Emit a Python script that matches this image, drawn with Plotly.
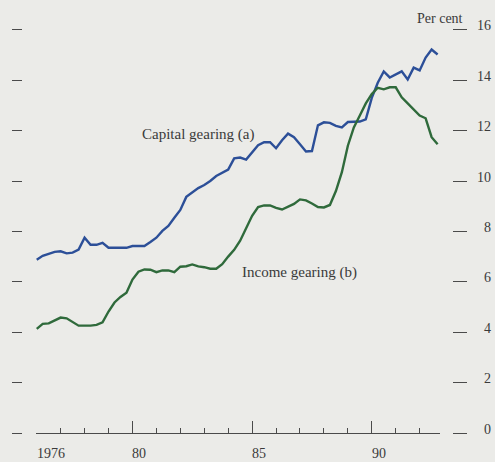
import pandas as pd
import plotly.graph_objects as go

# Quarterly observations, 1976 Q1 to 1992 Q4
quarters = pd.period_range("1976Q1", periods=68, freq="Q")

capital_gearing = [
    6.88, 7.03, 7.11, 7.19, 7.21, 7.13, 7.16, 7.28,
    7.75, 7.47, 7.47, 7.55, 7.35, 7.34, 7.34, 7.35,
    7.42, 7.42, 7.42, 7.58, 7.75, 8.02, 8.22, 8.54,
    8.85, 9.37, 9.53, 9.72, 9.84, 10.00, 10.20, 10.33,
    10.45, 10.90, 10.93, 10.85, 11.15, 11.42, 11.54, 11.54,
    11.30, 11.62, 11.88, 11.74, 11.46, 11.17, 11.19, 12.21,
    12.33, 12.31, 12.19, 12.13, 12.34, 12.36, 12.36, 12.45,
    13.30, 13.90, 14.35, 14.11, 14.23, 14.35, 14.03, 14.50,
    14.39, 14.90, 15.22, 15.02,
]

income_gearing = [
    4.13, 4.33, 4.35, 4.47, 4.58, 4.55, 4.39, 4.26,
    4.26, 4.26, 4.29, 4.39, 4.82, 5.18, 5.40, 5.57,
    6.09, 6.40, 6.49, 6.48, 6.38, 6.45, 6.45, 6.38,
    6.60, 6.62, 6.69, 6.61, 6.58, 6.52, 6.52, 6.70,
    7.00, 7.27, 7.63, 8.10, 8.62, 8.97, 9.03, 9.03,
    8.93, 8.87, 8.99, 9.09, 9.27, 9.23, 9.11, 8.97,
    8.95, 9.05, 9.60, 10.35, 11.40, 12.13, 12.60, 13.08,
    13.45, 13.70, 13.64, 13.72, 13.72, 13.32, 13.08, 12.85,
    12.60, 12.49, 11.74, 11.46,
]

y_ticks = [0, 2, 4, 6, 8, 10, 12, 14, 16]
year_ticks = [1976, 1980, 1985, 1990]
year_labels = ["1976", "80", "85", "90"]
major_years = [1980, 1985, 1990]

x = [q.year + (q.quarter - 1) / 4 for q in quarters]

BG = "#ebebe8"
INK = "#3a3a3a"
BLUE = "#2c4f98"
GREEN = "#2f6a3b"
SERIF = "Liberation Serif, Times New Roman, serif"

fig = go.Figure()
fig.add_trace(go.Scatter(x=x, y=capital_gearing, mode="lines",
                         line=dict(color=BLUE, width=2.4), showlegend=False))
fig.add_trace(go.Scatter(x=x, y=income_gearing, mode="lines",
                         line=dict(color=GREEN, width=2.4), showlegend=False))
# keeps the right-hand scale drawn
fig.add_trace(go.Scatter(x=[], y=[], yaxis="y2", showlegend=False))

y_range = [0, 16.39]

fig.update_layout(
    width=495, height=462,
    margin=dict(l=0, r=0, t=20, b=29),
    paper_bgcolor=BG, plot_bgcolor=BG,
    font=dict(family=SERIF, size=14, color=INK),
    xaxis=dict(
        domain=[36 / 495, 440 / 495], range=[1975.97, 1992.85],
        anchor="y", showgrid=False, zeroline=False,
        showline=True, linecolor="#4a4a4a", linewidth=1.2,
        ticks="inside", tickvals=major_years, ticklen=12, tickwidth=1.2,
        tickcolor="#4a4a4a", showticklabels=False,
        minor=dict(ticks="inside", ticklen=5, tickwidth=1.2,
                   tickcolor="#4a4a4a", tick0=1976, dtick=1),
    ),
    yaxis=dict(
        range=y_range, anchor="free", position=22 / 495, side="left",
        showgrid=False, zeroline=False, showline=False,
        ticks="outside", ticklen=10, tickwidth=1.3, tickcolor="#4a4a4a",
        tickvals=y_ticks, showticklabels=False,
    ),
    yaxis2=dict(
        range=y_range, overlaying="y", anchor="free", position=452 / 495,
        side="right", showgrid=False, zeroline=False, showline=False,
        ticks="outside", ticklen=14, tickwidth=1.3, tickcolor="#4a4a4a",
        tickvals=y_ticks, showticklabels=False,
    ),
)

# right-hand scale labels, right-aligned
for v in y_ticks:
    fig.add_annotation(x=493 / 495, y=v, xref="paper", yref="y",
                       text=str(v), showarrow=False, xanchor="right",
                       yanchor="middle", yshift=4,
                       font=dict(family=SERIF, size=14, color=INK))

for yr, lab in zip(year_ticks, year_labels):
    fig.add_annotation(x=yr, y=0, xref="x", yref="paper", text=lab,
                       showarrow=False, xanchor="left", yanchor="middle",
                       yshift=-20, xshift=-2,
                       font=dict(family=SERIF, size=14, color=INK))

fig.add_annotation(x=465 / 495, y=1, xref="paper", yref="paper",
                   text="Per cent", showarrow=False, xanchor="right",
                   yanchor="middle", yshift=2,
                   font=dict(family=SERIF, size=14, color=INK))

fig.add_annotation(x=1982.73, y=11.85, xref="x", yref="y",
                   text="Capital gearing (a)", showarrow=False,
                   font=dict(family=SERIF, size=15, color=INK))
fig.add_annotation(x=1986.99, y=6.36, xref="x", yref="y",
                   text="Income gearing (b)", showarrow=False,
                   font=dict(family=SERIF, size=15, color=INK))

fig.write_html("out.html")
